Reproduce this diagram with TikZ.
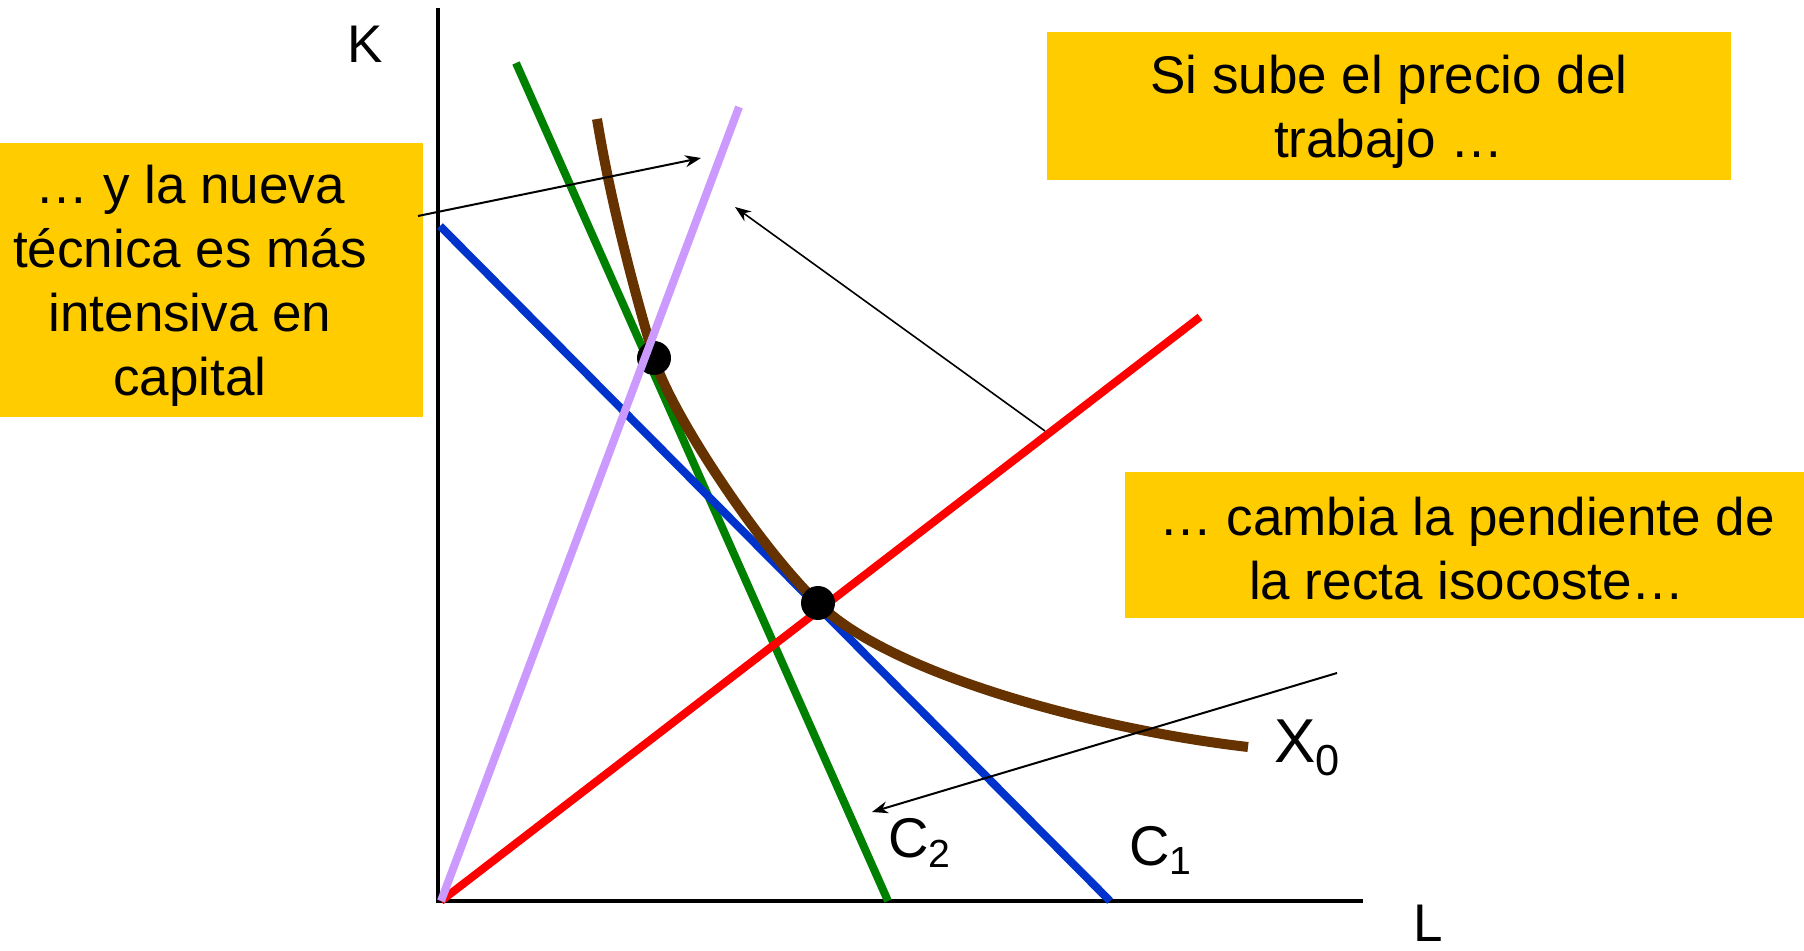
\documentclass[tikz,border=0pt]{standalone}
\usepackage{fontspec}
\setmainfont{Liberation Sans}
\usepackage{tikz}
\usetikzlibrary{arrows.meta}
\definecolor{boxyellow}{RGB}{255,204,0}
\definecolor{isogreen}{RGB}{0,128,0}
\definecolor{isoblue}{RGB}{0,51,204}
\definecolor{lilac}{RGB}{204,153,255}
\definecolor{isobrown}{RGB}{102,51,0}
\tikzset{
    axisline/.style={line width=2pt, black},
    % 彩色直线样式
    rayline/.style={line width=4pt},
    thinarrow/.style={
        line width=1pt,
        black,
        -{Stealth[length=8pt, width=6pt]}
    },
    % 黄色文字框
    yellowbox/.style={fill=boxyellow, inner sep=0pt},
    boxtext/.style={
        align=center,
        inner sep=0pt,
        font=\fontsize{26.5}{32}\selectfont
    },
    axislabel/.style={inner sep=0pt, anchor=base west}
}
\begin{document}
\begin{tikzpicture}[x=0.5pt,y=-0.5pt]
   \clip (0,0) rectangle (1804,951);
   \path
    (438,901) coordinate (ax)
    (438,8) coordinate (ktop)
    (1363,901) coordinate (lend)
    (441,901) coordinate (o)
    (516,63) coordinate (g1)
    (888,901) coordinate (g2)
    (440,226) coordinate (c1)
    (1110,901) coordinate (c2)
    (1200,317) coordinate (r1)
    (739,107) coordinate (v1)
    (597,119) coordinate (x1)
    (654,358) coordinate (e1)
    (818,603) coordinate (e2)
    (1248,747) coordinate (x2);

    % 文字框
    \node[yellowbox, minimum width=233pt, minimum height=137pt] (tecnica) at (190,280) {};
    \node[boxtext] at ([yshift=-3pt]tecnica.center)
        {… y la nueva\\técnica es más\\intensiva en\\capital};
    \node[yellowbox, minimum width=342pt, minimum height=74pt] (precio) at (1389,106) {};
    \node[boxtext] at ([yshift=-3pt]precio.center) {Si sube el precio del\\trabajo …};
    \node[yellowbox, minimum width=342pt, minimum height=73pt] (pendiente) at (1467,545) {};
    \node[boxtext] at ([yshift=-2pt]pendiente.center)
        {… cambia la pendiente de\\la recta isocoste…};

    % 坐标轴
    \draw[axisline] (ktop) -- (ax) -- (lend);
    \node[axislabel, font=\fontsize{26.5}{32}\selectfont] (klab) at (347,63) {K};
    \node[axislabel, font=\fontsize{26.5}{32}\selectfont] (llab) at (1413,941) {L};

    % 等成本线与等产量线
    \draw[rayline, isogreen] (g1) -- (g2);
    \draw[rayline, isoblue] (c1) -- (c2);
    \draw[isobrown, line width=5pt] (x1) .. controls (612,210) and (637,300) .. (e1)
        .. controls (670,412) and (760,548) .. (e2)
        .. controls (890,675) and (1100,730) .. (x2);
    \draw[rayline, red] (o) -- (r1);
    \fill (e1) circle (8.5pt) (e2) circle (8.5pt);
    \draw[rayline, lilac] (o) -- (v1);

    \node[axislabel, font=\fontsize{28}{32}\selectfont] (c2lab) at (888,857) {C\textsubscript{2}};
    \node[axislabel, font=\fontsize{28}{32}\selectfont] (c1lab) at (1129,865) {C\textsubscript{1}};
    \node[axislabel, font=\fontsize{31}{36}\selectfont] (xlab) at (1274,762) {X\textsubscript{0}};

    % 箭头
    \path (418,216) coordinate (a1s) (701,158) coordinate (a1e)
          (1045,431) coordinate (a2s) (735,207) coordinate (a2e)
          (1337,673) coordinate (a3s) (872,812) coordinate (a3e);
    \draw[thinarrow] (a1s) -- (a1e);
    \draw[thinarrow, line width=0.8pt] (a2s) -- (a2e);
    \draw[thinarrow] (a3s) -- (a3e);
\end{tikzpicture}
\end{document}
